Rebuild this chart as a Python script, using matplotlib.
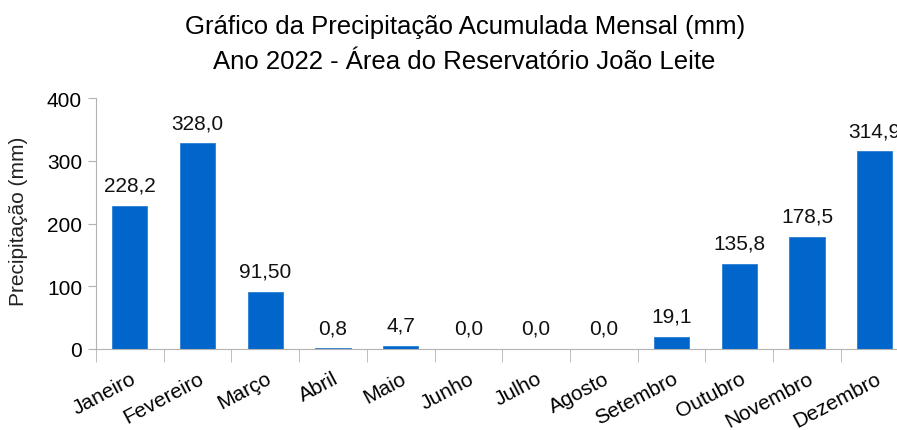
import numpy as np
import matplotlib.pyplot as plt
from matplotlib.ticker import FixedLocator

plt.rcParams['font.family'] = ['Liberation Sans', 'DejaVu Sans']

meses = ['Janeiro', 'Fevereiro', 'Março', 'Abril', 'Maio', 'Junho',
         'Julho', 'Agosto', 'Setembro', 'Outubro', 'Novembro', 'Dezembro']
precip = [228.2, 328.0, 91.5, 0.8, 4.7, 0.0, 0.0, 0.0, 19.1, 135.8, 178.5, 314.9]
rotulos = ['228,2', '328,0', '91,50', '0,8', '4,7', '0,0', '0,0', '0,0',
           '19,1', '135,8', '178,5', '314,9']
y_ticks = [0, 100, 200, 300, 400]

fig = plt.figure(figsize=(8.97, 4.31), dpi=100)
ax = fig.add_axes([0.107, 0.188, 0.906, 0.582])

x = np.arange(len(meses))
ax.bar(x, precip, width=0.52, color='#0066cc', edgecolor='#2a7fd4', linewidth=0.6)

# valores acima das barras
for xi, v, lab in zip(x, precip, rotulos):
    ax.annotate(lab, (xi, v), xytext=(0, 8), textcoords='offset points',
                ha='center', va='bottom', fontsize=15, color='#111111')

ax.set_xlim(-0.5, len(meses) - 0.5)
ax.set_ylim(0, 400)
ax.set_yticks(y_ticks)
ax.tick_params(axis='y', labelsize=15, length=6, color='#b3b3b3', pad=4)

ax.set_xticks(x)
ax.set_xticklabels(meses, rotation=28, ha='right', rotation_mode='anchor', fontsize=15)
ax.tick_params(axis='x', which='major', length=0, pad=14)
ax.xaxis.set_minor_locator(FixedLocator(np.arange(-0.5, len(meses), 1.0)))
ax.tick_params(axis='x', which='minor', length=9, color='#b3b3b3')

for s in ['top', 'right']:
    ax.spines[s].set_visible(False)
for s in ['left', 'bottom']:
    ax.spines[s].set_color('#b3b3b3')

fig.text(0.021, 0.487, 'Precipitação (mm)', rotation=90, ha='center', va='center',
         fontsize=15, color='#222222')

fig.text(0.518, 0.937, 'Gráfico da Precipitação Acumulada Mensal (mm)',
         ha='center', va='center', fontsize=18.5)
fig.text(0.518, 0.857, 'Ano 2022 - Área do Reservatório João Leite',
         ha='center', va='center', fontsize=18.5)

fig.savefig('out.png', dpi=100)
